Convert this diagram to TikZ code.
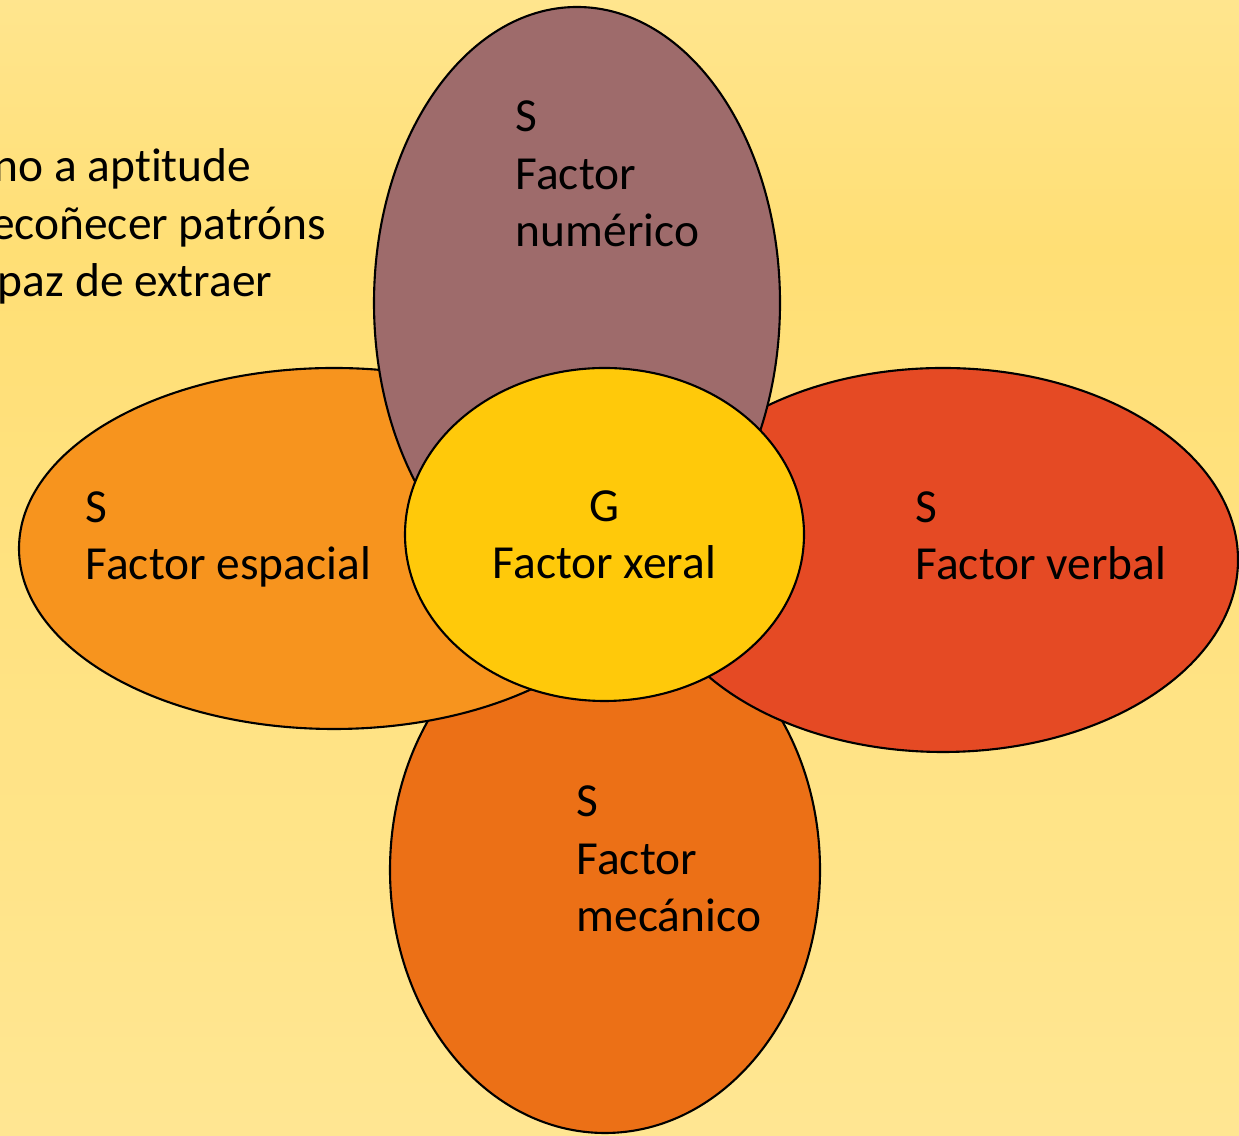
\documentclass[tikz,border=0pt]{standalone}
\usepackage{fontspec}
\setmainfont{Carlito}[Ligatures=NoCommon]
\usetikzlibrary{shapes.geometric,calc}

\definecolor{bgtop}{HTML}{FFF3C6}
\definecolor{bgmid}{HTML}{FFDF75}
\definecolor{bgbot}{HTML}{FFEBA5}
\definecolor{numcol}{HTML}{9E6B6B}
\definecolor{espcol}{HTML}{F7941E}
\definecolor{verbcol}{HTML}{E54A24}
\definecolor{meccol}{HTML}{EC7016}
\definecolor{xercol}{HTML}{FFC90A}

\pgfdeclareverticalshading{bgfade}{100bp}{color(0bp)=(bgbot); color(64bp)=(bgmid); color(100bp)=(bgtop)}

\tikzset{
  petal/.style={ellipse,draw=black,line width=0.6pt,inner sep=0pt},
  lbl/.style={font=\fontsize{13.5}{16.4}\selectfont,inner sep=0pt,align=left,anchor=base west}
}

\begin{document}
\begin{tikzpicture}
\useasboundingbox (0,0) rectangle (12.39,11.35);
\fill[shading=bgfade] (0,0) rectangle (12.39,11.35);
% text cut off at the left edge
\node[lbl,anchor=base east] (def1) at (2.52,9.53) {no a aptitude};
\node[lbl,anchor=base east] (def2) at (3.27,8.95) {ecoñecer patróns};
\node[lbl,anchor=base east] (def3) at (2.73,8.38) {paz de extraer};
% petals, back to front
\node[petal,fill=meccol,minimum width=4.30cm,minimum height=5.26cm] (mec) at (6.05,2.65) {};
\node[petal,fill=espcol,minimum width=6.30cm,minimum height=3.61cm] (esp) at (3.34,5.865) {};
\node[petal,fill=verbcol,minimum width=5.90cm,minimum height=3.84cm] (verb) at (9.43,5.75) {};
\node[petal,fill=numcol,minimum width=4.06cm,minimum height=5.92cm] (num) at (5.77,8.32) {};
\node[petal,fill=xercol,minimum width=3.99cm,minimum height=3.33cm] (xer) at (6.045,6.005) {};
% labels (base = last line)
\node[lbl] at ($(num.center)+(-0.62,0.56)$) (numtxt) {S\\Factor\\numérico};
\node[lbl] at ($(esp.center)+(-2.49,-0.315)$) (esptxt) {S\\Factor espacial};
\node[lbl] at ($(verb.center)+(-0.28,-0.20)$) (verbtxt) {S\\Factor verbal};
\node[lbl] at ($(mec.center)+(-0.29,-0.62)$) (mectxt) {S\\Factor\\mecánico};
\node[lbl,align=center,anchor=base] at ($(xer.center)+(0,-0.445)$) (xertxt) {G\\Factor xeral};
\end{tikzpicture}
\end{document}
